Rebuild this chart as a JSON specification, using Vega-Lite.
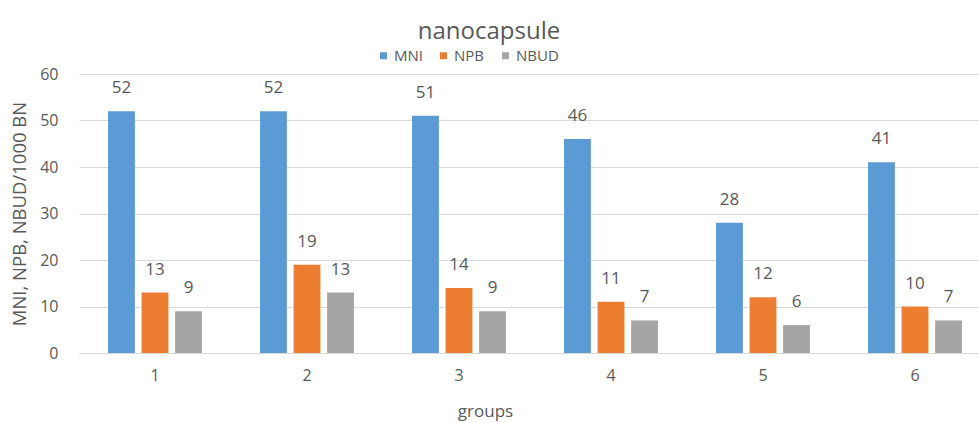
{
  "$schema": "https://vega.github.io/schema/vega-lite/v6.json",
  "width": 900,
  "height": 279,
  "autosize": "none",
  "padding": {"left": 79, "top": 74, "right": 0, "bottom": 70},
  "config": {
    "font": "Open Sans",
    "view": {"stroke": null},
    "axis": {"labelColor": "#595959", "titleColor": "#595959", "titleFontWeight": "normal"}
  },
  "title": {
    "text": "nanocapsule",
    "fontSize": 24,
    "fontWeight": "normal",
    "color": "#595959",
    "anchor": "middle",
    "frame": "group",
    "dx": -40,
    "offset": 4
  },
  "data": {
    "values": [
      {"group": "1", "series": "MNI", "value": 52},
      {"group": "1", "series": "NPB", "value": 13},
      {"group": "1", "series": "NBUD", "value": 9},
      {"group": "2", "series": "MNI", "value": 52},
      {"group": "2", "series": "NPB", "value": 19},
      {"group": "2", "series": "NBUD", "value": 13},
      {"group": "3", "series": "MNI", "value": 51},
      {"group": "3", "series": "NPB", "value": 14},
      {"group": "3", "series": "NBUD", "value": 9},
      {"group": "4", "series": "MNI", "value": 46},
      {"group": "4", "series": "NPB", "value": 11},
      {"group": "4", "series": "NBUD", "value": 7},
      {"group": "5", "series": "MNI", "value": 28},
      {"group": "5", "series": "NPB", "value": 12},
      {"group": "5", "series": "NBUD", "value": 6},
      {"group": "6", "series": "MNI", "value": 41},
      {"group": "6", "series": "NPB", "value": 10},
      {"group": "6", "series": "NBUD", "value": 7}
    ]
  },
  "encoding": {
    "x": {
      "field": "group",
      "type": "nominal",
      "scale": {"range": [0, 912], "paddingInner": 0.382, "paddingOuter": 0.191},
      "axis": {
        "title": "groups",
        "labelAngle": 0,
        "ticks": false,
        "domainColor": "#D9D9D9",
        "labelFontSize": 16,
        "labelPadding": 14,
        "titleFontSize": 17,
        "titlePadding": 20,
        "titleX": 406,
        "grid": false
      }
    },
    "xOffset": {
      "field": "series",
      "type": "nominal",
      "sort": ["MNI", "NPB", "NBUD"],
      "scale": {"paddingInner": 0.2, "paddingOuter": 0}
    },
    "y": {
      "field": "value",
      "type": "quantitative",
      "scale": {"domain": [0, 60]},
      "axis": {
        "title": "MNI, NPB, NBUD/1000 BN",
        "values": [0, 10, 20, 30, 40, 50, 60],
        "domain": false,
        "ticks": false,
        "grid": true,
        "gridColor": "#D9D9D9",
        "labelFontSize": 16,
        "labelPadding": 21,
        "titleFontSize": 18.5,
        "titlePadding": 10
      }
    }
  },
  "layer": [
    {
      "mark": {"type": "bar"},
      "encoding": {
        "color": {
          "field": "series",
          "type": "nominal",
          "sort": ["MNI", "NPB", "NBUD"],
          "scale": {"domain": ["MNI", "NPB", "NBUD"], "range": ["#5B9BD5", "#ED7D31", "#A5A5A5"]},
          "legend": {
            "title": null,
            "orient": "none",
            "direction": "horizontal",
            "legendX": 297,
            "legendY": -26,
            "symbolType": "square",
            "symbolSize": 49,
            "symbolStrokeWidth": 0,
            "labelFontSize": 15,
            "labelColor": "#595959",
            "labelOffset": 3,
            "columnPadding": 13
          }
        }
      }
    },
    {
      "mark": {"type": "text", "baseline": "alphabetic", "dy": -18, "fontSize": 17, "color": "#595959"},
      "encoding": {"text": {"field": "value", "type": "quantitative"}}
    }
  ]
}
